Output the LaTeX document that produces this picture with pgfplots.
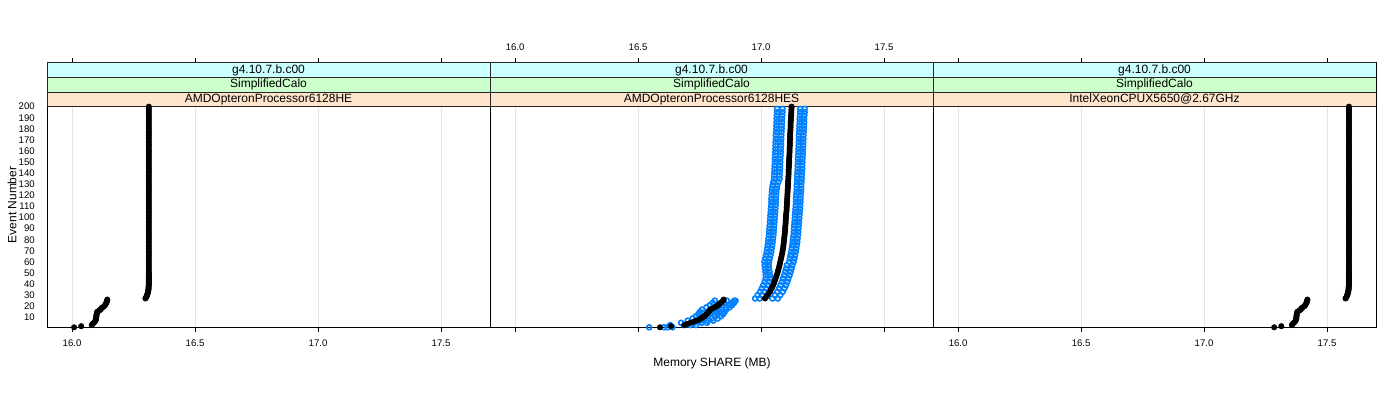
\documentclass[border=0pt]{standalone}
\usepackage{pgfplots}
\pgfplotsset{compat=1.18}
\usepackage{fontspec}
\setmainfont{Liberation Sans}
\definecolor{stripcyan}{HTML}{CCFFFF}
\definecolor{stripgreen}{HTML}{CCFFCC}
\definecolor{striporange}{HTML}{FFE5CC}
\definecolor{lblue}{HTML}{0080FF}
\definecolor{gridgray}{HTML}{E6E6E6}
\pgfplotsset{
  panel/.style={
    scale only axis, width=221.5pt, height=132.15pt, anchor=south west,
    xmin=15.898, xmax=17.699, ymin=1, ymax=239.4,
    xtick={16,16.5,17,17.5},
    ytick={10,20,...,200},
    tick align=outside, xtick pos=both, ytick pos=left,
    major tick length=2.6pt,
    ytick style={draw=none},
    xmajorgrids, grid style={gridgray, line width=0.5pt},
    axis line style={black, line width=0.5pt},
    tick style={black, line width=0.5pt},
    ticklabel style={font=\fontsize{4.8}{5.5}\selectfont},
    xticklabel style={/pgf/number format/fixed, /pgf/number format/fixed zerofill, /pgf/number format/precision=1},
    /pgf/number format/assume math mode=true,
  },
  blk/.style={only marks, mark=*, mark size=1.3pt, mark options={draw=black, fill=black}},
  blu/.style={only marks, mark=o, mark size=1.25pt, mark options={draw=lblue, line width=0.8pt}},
}
\newcommand{\strips}[1]{%
  \draw[fill=striporange, draw=black!85, line width=0.5pt] (axis cs:15.898,200) rectangle (axis cs:17.699,213.13);
  \draw[fill=stripgreen, draw=black!85, line width=0.5pt] (axis cs:15.898,213.13) rectangle (axis cs:17.699,226.27);
  \draw[fill=stripcyan, draw=black!85, line width=0.5pt] (axis cs:15.898,226.27) rectangle (axis cs:17.699,239.4);
  \node[font=\fontsize{6}{7}\selectfont, inner sep=0pt] at (axis cs:16.7985,206.57) {#1};
  \node[font=\fontsize{6}{7}\selectfont, inner sep=0pt] at (axis cs:16.7985,219.70) {SimplifiedCalo};
  \node[font=\fontsize{6}{7}\selectfont, inner sep=0pt] at (axis cs:16.7985,232.83) {g4.10.7.b.c00};
}
\begin{document}
\begin{tikzpicture}
\useasboundingbox (0pt,0pt) rectangle (700pt,200pt);
% ---------------- Panel 1 ----------------
\begin{axis}[panel, at={(23.5pt,36.35pt)}, xticklabel pos=lower]
\addplot[blk] coordinates {
(16.008,1)(16.037,2)(16.080,3)(16.083,4)(16.088,5)(16.092,6)(16.095,7)(16.097,8)(16.098,9)(16.098,10)
(16.099,11)(16.099,12)(16.100,13)(16.101,14)(16.102,15)(16.110,16)(16.116,17)(16.118,18)(16.124,19)(16.130,20)
(16.134,21)(16.137,22)(16.139,23)(16.141,24)(16.142,25)(16.143,26)(16.298,27)(16.301,28)(16.303,29)(16.305,30)
(16.306,31)(16.308,32)(16.309,33)(16.310,34)(16.310,35)(16.311,36)(16.311,37)(16.311,38)(16.312,39)(16.312,40)
(16.312,41)(16.312,42)(16.312,43)(16.312,44)(16.312,45)(16.312,46)(16.312,47)(16.312,48)(16.312,49)(16.312,50)
(16.312,52)(16.312,54)(16.312,56)(16.312,58)(16.312,60)
(16.312,62)(16.312,64)(16.312,66)(16.312,68)(16.312,70)(16.312,72)(16.312,74)(16.312,76)(16.312,78)(16.312,80)
(16.312,82)(16.312,84)(16.312,86)(16.312,88)(16.312,90)(16.312,92)(16.312,94)(16.312,96)(16.312,98)(16.312,100)
(16.312,102)(16.312,104)(16.312,106)(16.312,108)(16.312,110)(16.312,112)(16.312,114)(16.312,116)(16.312,118)(16.312,120)
(16.312,122)(16.312,124)(16.312,126)(16.312,128)(16.312,130)(16.312,132)(16.312,134)(16.312,136)(16.312,138)(16.312,140)
(16.312,142)(16.312,144)(16.312,146)(16.312,148)(16.312,150)(16.312,152)(16.312,154)(16.312,156)(16.312,158)(16.312,160)
(16.312,162)(16.312,164)(16.312,166)(16.312,168)(16.312,170)(16.312,172)(16.312,174)(16.312,176)(16.312,178)(16.312,180)
(16.312,182)(16.312,184)(16.312,186)(16.312,188)(16.312,190)(16.312,192)(16.312,194)(16.312,196)(16.312,198)(16.312,200)
};
\strips{AMDOpteronProcessor6128HE}
\end{axis}
% ---------------- Panel 2 ----------------
\begin{axis}[panel, at={(245pt,36.35pt)}, xticklabel pos=upper, ytick=\empty]
% blue runs
\addplot[blu] coordinates {
(16.545,1)(16.630,3)(16.675,5)(16.702,7)(16.722,9)(16.735,11)(16.745,13)(16.752,15)(16.760,17)(16.778,19)(16.792,21)(16.803,23)(16.812,25)
(16.976,27)(16.986,30)(16.996,33)(17.003,36)(17.009,39)(17.015,42)(17.019,45)(17.019,48)(17.018,51)(17.017,54)
(17.015,57)(17.014,60)(17.017,63)(17.020,66)(17.023,69)(17.025,72)(17.027,75)(17.029,78)(17.030,81)(17.032,84)
(17.033,87)(17.034,90)(17.035,93)(17.036,96)(17.037,99)(17.038,102)(17.039,105)(17.040,108)(17.041,111)(17.042,114)
(17.042,117)(17.043,120)(17.044,123)(17.045,126)(17.047,129)(17.050,132)(17.053,135)(17.053,138)(17.054,141)(17.055,144)
(17.055,147)(17.056,150)(17.056,153)(17.057,156)(17.058,159)(17.058,162)(17.059,165)(17.059,168)(17.060,171)(17.060,174)
(17.061,177)(17.062,180)(17.062,183)(17.063,186)(17.063,189)(17.064,192)(17.065,195)(17.065,198)
};
\addplot[blu] coordinates {
(16.605,1)(16.688,3)(16.728,5)(16.754,7)(16.771,9)(16.784,11)(16.793,13)(16.801,15)(16.809,17)(16.827,19)(16.840,21)(16.851,23)(16.861,25)
(16.994,27)(17.004,30)(17.014,33)(17.021,36)(17.027,39)(17.033,42)(17.037,45)(17.036,48)(17.034,51)(17.032,54)
(17.031,57)(17.032,60)(17.035,63)(17.038,66)(17.041,69)(17.043,72)(17.045,75)(17.047,78)(17.048,81)(17.050,84)
(17.051,87)(17.052,90)(17.053,93)(17.054,96)(17.055,99)(17.056,102)(17.057,105)(17.058,108)(17.059,111)(17.060,114)
(17.060,117)(17.061,120)(17.062,123)(17.063,126)(17.065,129)(17.070,132)(17.075,135)(17.075,138)(17.076,141)(17.077,144)
(17.077,147)(17.078,150)(17.078,153)(17.079,156)(17.080,159)(17.080,162)(17.081,165)(17.081,168)(17.082,171)(17.082,174)
(17.083,177)(17.084,180)(17.084,183)(17.085,186)(17.085,189)(17.086,192)(17.087,195)(17.087,198)
};
\addplot[blu] coordinates {
(16.620,1)(16.712,3)(16.758,5)(16.783,7)(16.801,9)(16.814,11)(16.823,13)(16.831,15)(16.839,17)(16.857,19)(16.870,21)(16.881,23)(16.891,25)
(17.046,27)(17.056,30)(17.066,33)(17.073,36)(17.079,39)(17.085,42)(17.089,45)(17.094,48)(17.098,51)(17.102,54)
(17.105,57)(17.114,60)(17.117,63)(17.120,66)(17.123,69)(17.125,72)(17.127,75)(17.129,78)(17.130,81)(17.132,84)
(17.133,87)(17.134,90)(17.135,93)(17.136,96)(17.137,99)(17.138,102)(17.139,105)(17.140,108)(17.141,111)(17.142,114)
(17.142,117)(17.143,120)(17.144,123)(17.145,126)(17.145,129)(17.146,132)(17.147,135)(17.147,138)(17.148,141)(17.149,144)
(17.149,147)(17.150,150)(17.150,153)(17.151,156)(17.152,159)(17.152,162)(17.153,165)(17.153,168)(17.154,171)(17.154,174)
(17.155,177)(17.156,180)(17.156,183)(17.157,186)(17.157,189)(17.158,192)(17.159,195)(17.159,198)
};
\addplot[blu] coordinates {
(16.640,1)(16.735,3)(16.780,5)(16.806,7)(16.824,9)(16.837,11)(16.846,13)(16.852,15)(16.858,17)(16.872,19)(16.882,21)(16.890,23)(16.896,25)
(17.068,27)(17.078,30)(17.088,33)(17.095,36)(17.101,39)(17.107,42)(17.111,45)(17.116,48)(17.120,51)(17.124,54)
(17.127,57)(17.132,60)(17.135,63)(17.138,66)(17.141,69)(17.143,72)(17.145,75)(17.147,78)(17.148,81)(17.150,84)
(17.151,87)(17.152,90)(17.153,93)(17.154,96)(17.155,99)(17.156,102)(17.157,105)(17.158,108)(17.159,111)(17.160,114)
(17.160,117)(17.161,120)(17.162,123)(17.163,126)(17.163,129)(17.164,132)(17.165,135)(17.165,138)(17.166,141)(17.167,144)
(17.167,147)(17.168,150)(17.168,153)(17.169,156)(17.170,159)(17.170,162)(17.171,165)(17.171,168)(17.172,171)(17.172,174)
(17.173,177)(17.174,180)(17.174,183)(17.175,186)(17.175,189)(17.176,192)(17.177,195)(17.177,198)
};
% black run
\addplot[blk] coordinates {
(16.589,1)(16.634,2)(16.688,3)(16.700,4)(16.712,5)(16.726,6)(16.738,7)(16.748,8)(16.756,9)(16.763,10)
(16.769,11)(16.774,12)(16.778,13)(16.782,14)(16.786,15)(16.790,16)(16.794,17)(16.802,18)(16.812,19)(16.819,20)
(16.825,21)(16.831,22)(16.836,23)(16.841,24)(16.846,25)(16.848,26)
(17.016,27)(17.023,29)(17.029,31)(17.036,33)(17.040,35)(17.045,37)(17.049,39)(17.053,41)(17.056,43)(17.059,45)
(17.062,47)(17.065,49)(17.068,51)(17.070,53)(17.073,55)(17.075,57)(17.077,59)(17.079,61)(17.081,63)(17.083,65)
(17.085,67)(17.087,69)(17.088,71)(17.090,73)(17.091,75)(17.092,77)(17.093,79)(17.094,81)(17.095,83)(17.096,85)
(17.097,87)(17.098,89)(17.098,91)(17.099,93)(17.100,95)(17.100,97)(17.101,99)(17.101,101)(17.102,103)(17.103,105)
(17.104,107)(17.104,109)(17.105,111)(17.105,113)(17.106,115)(17.106,117)(17.107,119)(17.107,121)(17.108,123)(17.108,125)
(17.109,127)(17.109,129)(17.110,131)(17.110,133)(17.111,135)(17.111,137)(17.112,139)(17.112,141)(17.112,143)(17.113,145)
(17.113,147)(17.114,149)(17.114,151)(17.114,153)(17.115,155)(17.115,157)(17.116,159)(17.116,161)(17.116,163)(17.117,165)
(17.117,167)(17.117,169)(17.118,171)(17.118,173)(17.118,175)(17.119,177)(17.119,179)(17.120,181)(17.120,183)(17.120,185)
(17.121,187)(17.121,189)(17.122,191)(17.122,193)(17.123,195)(17.123,197)(17.124,199)(17.124,200)
};
\strips{AMDOpteronProcessor6128HES}
\end{axis}
% ---------------- Panel 3 ----------------
\begin{axis}[panel, at={(466.5pt,36.35pt)}, xticklabel pos=lower, ytick=\empty]
\addplot[blk] coordinates {
(17.285,1)(17.314,2)(17.357,3)(17.360,4)(17.365,5)(17.369,6)(17.372,7)(17.374,8)(17.375,9)(17.375,10)
(17.376,11)(17.376,12)(17.377,13)(17.378,14)(17.379,15)(17.387,16)(17.393,17)(17.395,18)(17.401,19)(17.407,20)
(17.411,21)(17.414,22)(17.416,23)(17.418,24)(17.419,25)(17.420,26)(17.575,27)(17.578,28)(17.580,29)(17.582,30)
(17.583,31)(17.585,32)(17.586,33)(17.587,34)(17.587,35)(17.588,36)(17.588,37)(17.588,38)(17.589,39)(17.589,40)
(17.589,41)(17.589,42)(17.589,43)(17.589,44)(17.589,45)(17.589,46)(17.589,47)(17.589,48)(17.589,49)(17.589,50)
(17.589,52)(17.589,54)(17.589,56)(17.589,58)(17.589,60)
(17.589,62)(17.589,64)(17.589,66)(17.589,68)(17.589,70)(17.589,72)(17.589,74)(17.589,76)(17.589,78)(17.589,80)
(17.589,82)(17.589,84)(17.589,86)(17.589,88)(17.589,90)(17.589,92)(17.589,94)(17.589,96)(17.589,98)(17.589,100)
(17.589,102)(17.589,104)(17.589,106)(17.589,108)(17.589,110)(17.589,112)(17.589,114)(17.589,116)(17.589,118)(17.589,120)
(17.589,122)(17.589,124)(17.589,126)(17.589,128)(17.589,130)(17.589,132)(17.589,134)(17.589,136)(17.589,138)(17.589,140)
(17.589,142)(17.589,144)(17.589,146)(17.589,148)(17.589,150)(17.589,152)(17.589,154)(17.589,156)(17.589,158)(17.589,160)
(17.589,162)(17.589,164)(17.589,166)(17.589,168)(17.589,170)(17.589,172)(17.589,174)(17.589,176)(17.589,178)(17.589,180)
(17.589,182)(17.589,184)(17.589,186)(17.589,188)(17.589,190)(17.589,192)(17.589,194)(17.589,196)(17.589,198)(17.589,200)
};
\strips{IntelXeonCPUX5650@2.67GHz}
\end{axis}
\node[font=\fontsize{6}{7}\selectfont] at (356pt,18.5pt) {Memory SHARE (MB)};
\node[font=\fontsize{6}{7}\selectfont, rotate=90] at (6pt,97.5pt) {Event Number};
\end{tikzpicture}
\end{document}
